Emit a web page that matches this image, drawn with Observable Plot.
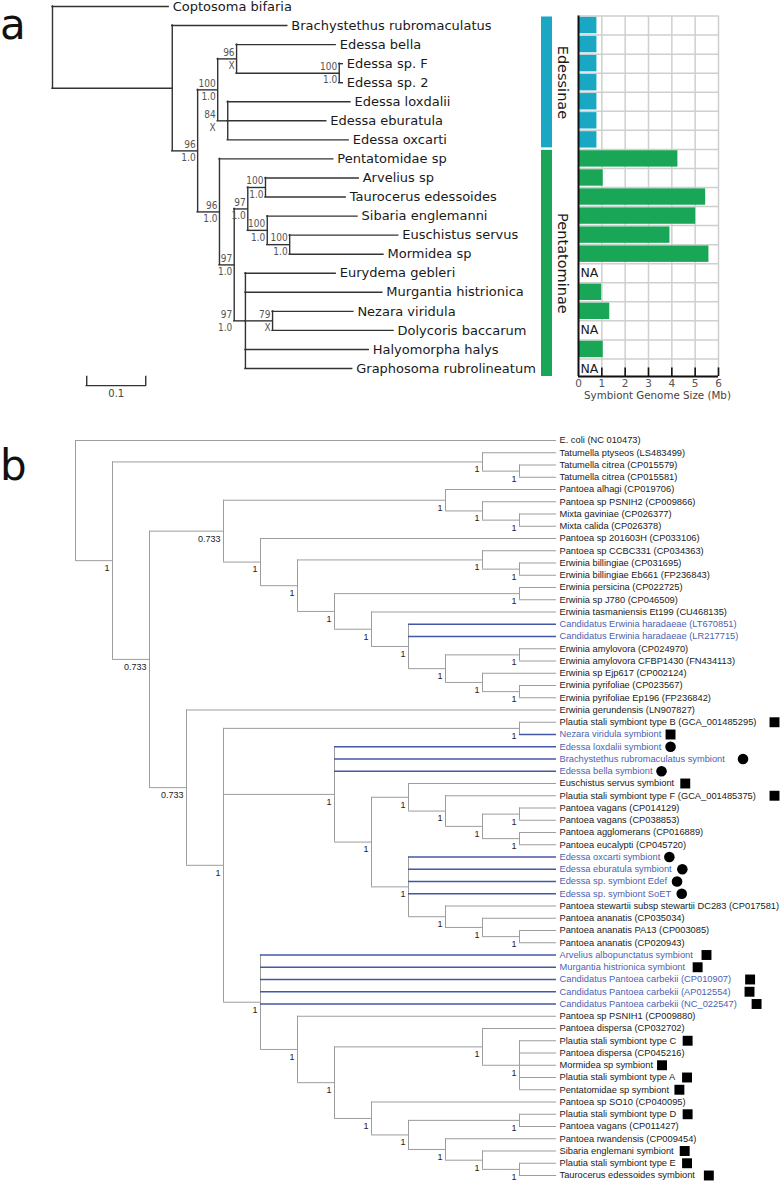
<!DOCTYPE html>
<html>
<head>
<meta charset="utf-8">
<script src="https://cdn.jsdelivr.net/npm/d3@7"></script>
<script src="https://cdn.jsdelivr.net/npm/@observablehq/plot@0.6"></script>
<style>
  html, body { margin: 0; padding: 0; background: #fff; }
  #fig { position: relative; width: 781px; height: 1181px; overflow: hidden; background: #fff; }
  .letter { position: absolute; font-family: "DejaVu Sans", sans-serif; font-size: 42px; line-height: normal; color: #111; }
</style>
</head>
<body>
<div id="fig"></div>
<script>
// ================= DATA: panel a (host phylogeny, branch lengths in subst./site) =================
const aNode = ["root","Coptosoma bifaria","A","Brachystethus rubromaculatus","B","C","D","Edessa bella","E","Edessa sp. F","Edessa sp. 2","F","Edessa loxdalii","Edessa eburatula","Edessa oxcarti","G","Pentatomidae sp","H","I","AT","Arvelius sp","Taurocerus edessoides","S","Sibaria englemanni","EM","Euschistus servus","Mormidea sp","J","Eurydema gebleri","Murgantia histrionica","ND","Nezara viridula","Dolycoris baccarum","Halyomorpha halys","Graphosoma rubrolineatum"];
const aParent = [null,"root","root","A","A","B","C","D","D","E","E","C","F","F","F","B","G","G","H","I","AT","AT","I","S","S","EM","EM","H","J","J","J","ND","ND","J","J"];
const aDepth = [0,0.197,0.203,0.398,0.246,0.280,0.312,0.480,0.486,0.492,0.492,0.297,0.505,0.464,0.502,0.283,0.476,0.308,0.331,0.361,0.519,0.497,0.364,0.517,0.402,0.586,0.561,0.327,0.480,0.559,0.373,0.510,0.578,0.536,0.508];
const aSupportNode = ["B","C","D","E","F","G","H","I","AT","S","EM","J","ND"];
const aBootstrap   = ["96","100","96","100","84","96","97","97","100","100","100","97","79"];
const aPosterior   = ["1.0","1.0","X","1.0","X","1.0","1.0","1.0","1.0","1.0","1.0","1.0","X"];
const scaleBarLength = 0.1;
const scaleBarLabel = "0.1";

// symbiont genome sizes (Mb); null = NA
const barTaxa = ["Brachystethus rubromaculatus","Edessa bella","Edessa sp. F","Edessa sp. 2","Edessa loxdalii","Edessa eburatula","Edessa oxcarti","Pentatomidae sp","Arvelius sp","Taurocerus edessoides","Sibaria englemanni","Euschistus servus","Mormidea sp","Eurydema gebleri","Murgantia histrionica","Nezara viridula","Dolycoris baccarum","Halyomorpha halys","Graphosoma rubrolineatum"];
const genomeSizeMb = [0.79,0.79,0.79,0.79,0.79,0.79,0.79,4.26,1.06,5.45,5.02,3.92,5.59,null,0.99,1.34,null,1.06,null];
const barSubfamily = ["Edessinae","Edessinae","Edessinae","Edessinae","Edessinae","Edessinae","Edessinae","Pentatominae","Pentatominae","Pentatominae","Pentatominae","Pentatominae","Pentatominae","Pentatominae","Pentatominae","Pentatominae","Pentatominae","Pentatominae","Pentatominae"];
const subfamilies = ["Edessinae","Pentatominae"];
const subfamilyColors = ["#1aa7c4","#1aa657"];
const sizeTicks = [0,1,2,3,4,5,6];
const sizeAxisTitle = "Symbiont Genome Size (Mb)";

// ================= DATA: panel b (symbiont cladogram) =================
const bInternalId     = ["root","n1","t","t2","n2","n3","p1","p2","p3","n5","n6","cc","bb","n7","pj","n8","n9","n10","am","ep","py","n4","n11","pb","n12","n13","n14","n15","n16","v1","v2","n17","n18","n19","n20","n21","n22","n23","n24","n26","n25","n27","n28","n29","n30","n31"];
const bInternalParent = [null,"root","n1","t","n1","n2","n3","p1","p2","n3","n5","n6","cc","n6","n7","n7","n8","n9","n10","n10","ep","n2","n4","n11","n11","n12","n13","n14","n15","n16","n16","n13","n17","n18","n19","n11","n21","n22","n23","n24","n23","n25","n27","n27","n29","n30"];
const bInternalLevel  = [0,1,11,12,2,4,10,11,12,5,6,11,12,7,12,8,9,10,12,11,12,3,4,12,7,8,9,10,11,12,12,9,10,11,12,5,6,7,11,12,8,9,12,10,11,12];
const bSupport        = ["","1","1","1","0.733","0.733","1","1","1","1","1","1","1","1","1","1","1","1","1","1","1","0.733","1","1","1","1","1","1","1","1","1","1","1","1","1","1","1","1","1","1","1","1","1","1","1","1"];
const bLeafName = ["E. coli (NC 010473)","Tatumella ptyseos (LS483499)","Tatumella citrea (CP015579)","Tatumella citrea (CP015581)","Pantoea alhagi (CP019706)","Pantoea sp PSNIH2 (CP009866)","Mixta gaviniae (CP026377)","Mixta calida (CP026378)","Pantoea sp 201603H (CP033106)","Pantoea sp CCBC331 (CP034363)","Erwinia billingiae (CP031695)","Erwinia billingiae Eb661 (FP236843)","Erwinia persicina (CP022725)","Erwinia sp J780 (CP046509)","Erwinia tasmaniensis Et199 (CU468135)","Candidatus Erwinia haradaeae (LT670851)","Candidatus Erwinia haradaeae (LR217715)","Erwinia amylovora (CP024970)","Erwinia amylovora CFBP1430 (FN434113)","Erwinia sp Ejp617 (CP002124)","Erwinia pyrifoliae (CP023567)","Erwinia pyrifoliae Ep196 (FP236842)","Erwinia gerundensis (LN907827)","Plautia stali symbiont type B (GCA_001485295)","Nezara viridula symbiont","Edessa loxdalii symbiont","Brachystethus rubromaculatus symbiont","Edessa bella symbiont","Euschistus servus symbiont","Plautia stali symbiont type F (GCA_001485375)","Pantoea vagans (CP014129)","Pantoea vagans (CP038853)","Pantoea agglomerans (CP016889)","Pantoea eucalypti (CP045720)","Edessa oxcarti symbiont","Edessa eburatula symbiont","Edessa sp. symbiont Edef","Edessa sp. symbiont SoET","Pantoea stewartii subsp stewartii DC283 (CP017581)","Pantoea ananatis (CP035034)","Pantoea ananatis PA13 (CP003085)","Pantoea ananatis (CP020943)","Arvelius albopunctatus symbiont","Murgantia histrionica symbiont","Candidatus Pantoea carbekii (CP010907)","Candidatus Pantoea carbekii (AP012554)","Candidatus Pantoea carbekii (NC_022547)","Pantoea sp PSNIH1 (CP009880)","Pantoea dispersa (CP032702)","Plautia stali symbiont type C","Pantoea dispersa (CP045216)","Mormidea sp symbiont","Plautia stali symbiont type A","Pentatomidae sp symbiont","Pantoea sp SO10 (CP040095)","Plautia stali symbiont type D","Pantoea vagans (CP011427)","Pantoea rwandensis (CP009454)","Sibaria englemani symbiont","Plautia stali symbiont type E","Taurocerus edessoides symbiont"];
const bLeafParent = ["root","t","t2","t2","p1","p2","p3","p3","n5","cc","bb","bb","pj","pj","n8","n9","n9","am","am","ep","py","py","n4","pb","pb","n12","n12","n12","n14","n15","v1","v1","v2","v2","n17","n17","n17","n17","n18","n19","n20","n20","n21","n21","n21","n21","n21","n22","n24","n26","n26","n26","n26","n26","n25","n28","n28","n29","n30","n31","n31"];
const bHighlighted = ["Candidatus Erwinia haradaeae (LT670851)","Candidatus Erwinia haradaeae (LR217715)","Nezara viridula symbiont","Edessa loxdalii symbiont","Brachystethus rubromaculatus symbiont","Edessa bella symbiont","Edessa oxcarti symbiont","Edessa eburatula symbiont","Edessa sp. symbiont Edef","Edessa sp. symbiont SoET","Arvelius albopunctatus symbiont","Murgantia histrionica symbiont","Candidatus Pantoea carbekii (CP010907)","Candidatus Pantoea carbekii (AP012554)","Candidatus Pantoea carbekii (NC_022547)"];
const bSquareMarked = ["Plautia stali symbiont type B (GCA_001485295)","Nezara viridula symbiont","Euschistus servus symbiont","Plautia stali symbiont type F (GCA_001485375)","Arvelius albopunctatus symbiont","Murgantia histrionica symbiont","Candidatus Pantoea carbekii (CP010907)","Candidatus Pantoea carbekii (AP012554)","Candidatus Pantoea carbekii (NC_022547)","Plautia stali symbiont type C","Mormidea sp symbiont","Plautia stali symbiont type A","Pentatomidae sp symbiont","Plautia stali symbiont type D","Sibaria englemani symbiont","Plautia stali symbiont type E","Taurocerus edessoides symbiont"];
const bCircleMarked = ["Edessa loxdalii symbiont","Brachystethus rubromaculatus symbiont","Edessa bella symbiont","Edessa oxcarti symbiont","Edessa eburatula symbiont","Edessa sp. symbiont Edef","Edessa sp. symbiont SoET"];

// ================= LAYOUT HELPERS =================
const fig = document.getElementById("fig");
function place(el, left, top) { el.style.position = "absolute"; el.style.left = left + "px"; el.style.top = top + "px"; fig.appendChild(el); }
const base = {margin: 0, style: {background: "transparent", overflow: "visible"}};
const SUPFONT = '"DejaVu Sans Condensed", "DejaVu Sans", sans-serif';

// ---------- panel a tree layout ----------
const A_PX = 590;
const aKids = new Map(aNode.map(n => [n, []]));
aParent.forEach((p, i) => { if (p !== null) aKids.get(p).push(aNode[i]); });
const aPar = new Map(aNode.map((n, i) => [n, aParent[i]]));
const aX = new Map(aNode.map((n, i) => [n, aDepth[i]]));
const aY = new Map();
let row = 0;
aNode.forEach(n => { if (!aKids.get(n).length) aY.set(n, row++); });
for (let i = aNode.length - 1; i >= 0; i--) {
  const k = aKids.get(aNode[i]);
  if (k.length) { const ys = k.map(c => aY.get(c)); aY.set(aNode[i], (Math.min(...ys) + Math.max(...ys)) / 2); }
}
const aHoriz = aNode.filter(n => aPar.get(n) !== null).map(n => ({x1: aX.get(aPar.get(n)), x2: aX.get(n), y: aY.get(n)}));
const aVert = aNode.filter(n => aKids.get(n).length).map(n => { const ys = aKids.get(n).map(c => aY.get(c)); return {x: aX.get(n), y1: Math.min(...ys), y2: Math.max(...ys)}; });
const aLeaves = aNode.filter(n => !aKids.get(n).length).map(n => ({name: n, x: aX.get(n), y: aY.get(n)}));
const aSup = aSupportNode.map((n, i) => {
  const p = aPar.get(n);
  const shortStem = (aX.get(n) - aX.get(p)) * A_PX < 12;
  return {x: shortStem ? aX.get(p) : aX.get(n), y: aY.get(n), boot: aBootstrap[i], post: aPosterior[i]};
});
const sbStart = 0.058, sbY = 19.9;
const lineA = {stroke: "#333", strokeWidth: 1.4, strokeLinecap: "square"};
const yA = {domain: [0, 19], range: [6, 368], axis: null};

const treeA = Plot.plot({
  ...base, width: 540, height: 410,
  x: {domain: [0, 1], range: [52, 52 + A_PX], axis: null},
  y: yA,
  marks: [
    Plot.ruleY(aHoriz, {y: "y", x1: "x1", x2: "x2", ...lineA}),
    Plot.ruleX(aVert, {x: "x", y1: "y1", y2: "y2", ...lineA}),
    Plot.text(aLeaves, {x: "x", y: "y", text: "name", textAnchor: "start", dx: 4, fontSize: 13, fontFamily: "DejaVu Sans", fill: "#1a1a1a"}),
    Plot.text(aSup, {x: "x", y: "y", text: "boot", textAnchor: "end", dx: -2, dy: -6.5, fontSize: 10, fontFamily: SUPFONT, fill: "#555"}),
    Plot.text(aSup, {x: "x", y: "y", text: "post", textAnchor: "end", dx: -2, dy: 7, fontSize: 10, fontFamily: SUPFONT, fill: "#555"}),
    Plot.ruleY([sbY], {x1: sbStart, x2: sbStart + scaleBarLength, ...lineA}),
    Plot.ruleX([sbStart, sbStart + scaleBarLength], {y1: sbY, y2: sbY - 0.45, ...lineA}),
    Plot.text([scaleBarLabel], {x: sbStart + scaleBarLength / 2, y: sbY, dy: 8, fontSize: 10, fontFamily: "DejaVu Sans", fill: "#444"})
  ]
});
place(treeA, 0, 0);

// ---------- subfamily strips + labels ----------
const bars = barTaxa.map((t, i) => ({taxon: t, y: aY.get(t), size: genomeSizeMb[i], sub: barSubfamily[i]}));
const strips = subfamilies.map(s => { const ys = bars.filter(b => b.sub === s).map(b => b.y); return {name: s, y1: Math.min(...ys) - 0.45, y2: Math.max(...ys) + 0.42, mid: (Math.min(...ys) - 0.45 + Math.max(...ys) + 0.42) / 2}; });
const colorA = {domain: subfamilies, range: subfamilyColors};

const stripPlot = Plot.plot({
  ...base, width: 11, height: 410,
  x: {domain: [0, 1], range: [0, 11], axis: null},
  y: yA, color: colorA,
  marks: [Plot.rect(strips, {x1: 0, x2: 1, y1: "y1", y2: "y2", fill: "name"})]
});
place(stripPlot, 541, 0);

const stripLabels = Plot.plot({
  ...base, width: 22, height: 410,
  y: yA,
  marks: [Plot.text(strips, {y: "mid", text: "name", rotate: 90, fontSize: 14.5, fontFamily: "DejaVu Sans", fill: "#1a1a1a"})]
});
place(stripLabels, 551, 0);

// ---------- bar chart ----------
const BAR_BOTTOM = 19.42;
const gridRows = d3.range(0.5, 19, 1);
const barPlot = Plot.plot({
  ...base, width: 221, height: 410,
  x: {domain: [0, 6], range: [18, 158], axis: null},
  y: yA, color: colorA,
  marks: [
    Plot.ruleY(gridRows, {x1: 0, x2: 6, stroke: "#cfcfcf", strokeWidth: 1.5}),
    Plot.ruleX(sizeTicks.slice(1), {y1: 0.5, y2: BAR_BOTTOM, stroke: "#cfcfcf", strokeWidth: 1.5}),
    Plot.rect(bars.filter(b => b.size != null), {x1: 0, x2: "size", y1: d => d.y - 0.43, y2: d => d.y + 0.43, fill: "sub"}),
    Plot.text(bars.filter(b => b.size == null), {x: 0, y: "y", text: () => "NA", textAnchor: "start", dx: 2, fontSize: 12.5, fontFamily: "DejaVu Sans", fill: "#1a1a1a"}),
    Plot.ruleX(sizeTicks.slice(1), {y1: BAR_BOTTOM, y2: BAR_BOTTOM - 0.45, stroke: "#111", strokeWidth: 1.6}),
    Plot.ruleY([BAR_BOTTOM], {x1: 0, x2: 6, stroke: "#111", strokeWidth: 2}),
    Plot.ruleX([0], {y1: 0.5, y2: BAR_BOTTOM, stroke: "#111", strokeWidth: 2}),
    Plot.text(sizeTicks, {x: d => d, y: BAR_BOTTOM, text: d => String(d), dy: 7, fontSize: 10.5, fontFamily: "DejaVu Sans", fill: "#555"}),
    Plot.text([sizeAxisTitle], {x: 3, y: BAR_BOTTOM, dx: 9, dy: 19, fontSize: 10.3, fontFamily: "DejaVu Sans", fill: "#444"})
  ]
});
place(barPlot, 560, 0);

// ---------- panel b layout ----------
const B_PX = 37, LEAF_LEVEL = 13, B_FONT = 9.3;
const bLevel = new Map(bInternalId.map((n, i) => [n, bInternalLevel[i]]));
const bKids = new Map(bInternalId.map(n => [n, []]));
bInternalParent.forEach((p, i) => { if (p !== null) bKids.get(p).push(bInternalId[i]); });
bLeafParent.forEach((p, i) => bKids.get(p).push(bLeafName[i]));
const bY = new Map(bLeafName.map((n, i) => [n, i]));
for (let i = bInternalId.length - 1; i >= 0; i--) {
  const ys = bKids.get(bInternalId[i]).map(c => bY.get(c));
  bY.set(bInternalId[i], (Math.min(...ys) + Math.max(...ys)) / 2);
}
const blueSet = new Set(bHighlighted);
const bEdges = [];
bInternalId.forEach((n, i) => { const p = bInternalParent[i]; if (p !== null) bEdges.push({x1: bLevel.get(p), x2: bLevel.get(n), y: bY.get(n), blue: false}); });
bLeafName.forEach((n, i) => bEdges.push({x1: bLevel.get(bLeafParent[i]), x2: LEAF_LEVEL, y: bY.get(n), blue: blueSet.has(n)}));
const bVert = bInternalId.map(n => { const ys = bKids.get(n).map(c => bY.get(c)); return {x: bLevel.get(n), y1: Math.min(...ys), y2: Math.max(...ys)}; });
const bSup = bInternalId.map((n, i) => ({x: bLevel.get(n), y: bY.get(n), s: bSupport[i]})).filter(d => d.s);
const bLeaves = bLeafName.map(n => ({name: n, y: bY.get(n), blue: blueSet.has(n)}));

const ctx = document.createElement("canvas").getContext("2d");
ctx.font = `${B_FONT}px "Liberation Sans"`;
const MAX_MARKER_X = (774 - 75) / B_PX;
function markerX(name) {
  const w = ctx.measureText(name).width;
  const gap = 9 + 0.14 * Math.max(0, w - 100);
  return Math.min(MAX_MARKER_X, LEAF_LEVEL + (3 + w + gap) / B_PX);
}
const bSquares = bSquareMarked.map(n => ({x: markerX(n), y: bY.get(n)}));
const bCircles = bCircleMarked.map(n => ({x: markerX(n), y: bY.get(n)}));

const GREY = "#9d9d9d", BLUE_LINE = "#4457a6", BLUE_TEXT = "#4d5fb0";
const treeB = Plot.plot({
  ...base, width: 781, height: 751,
  x: {domain: [0, 13], range: [75, 75 + 13 * B_PX], axis: null},
  y: {domain: [0, 60], range: [10, 745], axis: null},
  marks: [
    Plot.ruleY(bEdges.filter(d => !d.blue), {y: "y", x1: "x1", x2: "x2", stroke: GREY, strokeWidth: 1}),
    Plot.ruleX(bVert, {x: "x", y1: "y1", y2: "y2", stroke: GREY, strokeWidth: 1}),
    Plot.ruleY(bEdges.filter(d => d.blue), {y: "y", x1: "x1", x2: "x2", stroke: BLUE_LINE, strokeWidth: 1.3}),
    Plot.text(bSup, {x: "x", y: "y", text: "s", textAnchor: "end", dx: -3, dy: 7.5, fontSize: 9, fontFamily: "Liberation Sans", fill: "#222"}),
    Plot.text(bLeaves.filter(d => !d.blue), {x: LEAF_LEVEL, y: "y", text: "name", textAnchor: "start", dx: 3, fontSize: B_FONT, fontFamily: "Liberation Sans", fill: "#1a1a1a"}),
    Plot.text(bLeaves.filter(d => d.blue), {x: LEAF_LEVEL, y: "y", text: "name", textAnchor: "start", dx: 3, fontSize: B_FONT, fontFamily: "Liberation Sans", fill: BLUE_TEXT}),
    Plot.dot(bSquares, {x: "x", y: "y", symbol: "square", r: 5.6, fill: "#000", stroke: "none"}),
    Plot.dot(bCircles, {x: "x", y: "y", symbol: "circle", r: 5.3, fill: "#000", stroke: "none"})
  ]
});
place(treeB, 0, 430);

// panel letters
const la = document.createElement("div"); la.className = "letter"; la.textContent = "a"; place(la, 0, 0);
const lb = document.createElement("div"); lb.className = "letter"; lb.textContent = "b"; place(lb, 0, 441);
</script>
</body>
</html>
